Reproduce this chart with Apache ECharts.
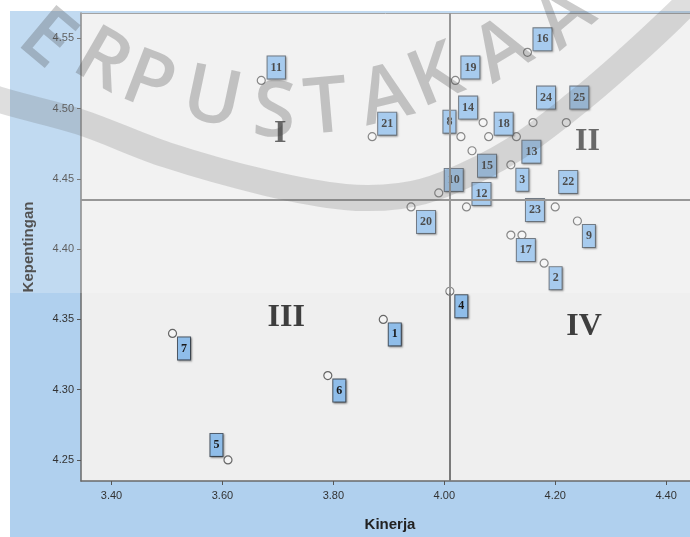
<!DOCTYPE html>
<html>
<head>
<meta charset="utf-8">
<script src="https://cdn.jsdelivr.net/npm/echarts@6/dist/echarts.min.js"></script>
<style>
  html, body { margin: 0; padding: 0; background: #ffffff; }
  #chart { width: 690px; height: 537px; }
</style>
</head>
<body>
<div id="chart"></div>
<script>
// Importance–performance scatter: attribute numbers, performance (Kinerja) and importance (Kepentingan)
const pointIds = [1, 2, 3, 4, 5, 6, 7, 8, 9, 10, 11, 12, 13, 14, 15, 16, 17, 18, 19, 20, 21, 22, 23, 24, 25];
const kinerja = [3.89, 4.18, 4.12, 4.01, 3.61, 3.79, 3.51, 4.03, 4.24, 3.99, 3.67, 4.04, 4.13,
                 4.07, 4.05, 4.15, 4.12, 4.08, 4.02, 3.94, 3.87, 4.20, 4.14, 4.16, 4.22];
const kepentingan = [4.35, 4.39, 4.46, 4.37, 4.25, 4.31, 4.34, 4.48, 4.42, 4.44, 4.52, 4.43, 4.48,
                     4.49, 4.47, 4.54, 4.41, 4.48, 4.52, 4.43, 4.48, 4.43, 4.41, 4.49, 4.49];
const xTicks = [3.40, 3.60, 3.80, 4.00, 4.20, 4.40];
const yTicks = [4.25, 4.30, 4.35, 4.40, 4.45, 4.50, 4.55];
const quadrantNames = ['I', 'II', 'III', 'IV'];

// where each quadrant numeral sits, in data units
const quadrantAnchors = [[3.704, 4.482], [4.258, 4.4765], [3.715, 4.351], [4.252, 4.3445]];
// side of the point on which each number tag is placed
const tagSide = ['lr', 'lr', 'lr', 'lr', 'ul', 'lr', 'lr', 'ul', 'lr', 'ur', 'ur', 'ur', 'lr',
                 'ul', 'lr', 'ur', 'lr', 'ur', 'ur', 'lr', 'ur', 'ur2', 'ur2', 'ur2', 'ur2'];

const mean = arr => arr.reduce((s, v) => s + v, 0) / arr.length;
const meanX = mean(kinerja);
const meanY = mean(kepentingan);

// the plot runs past the right edge of the canvas, so the visible x range ends before 4.46
const X_MIN = 3.345, X_MAX = 4.443, Y_MIN = 4.235, Y_MAX = 4.568;

function tagOffset(id, side) {
  const w = String(id).length * 7 + 6;
  if (side === 'lr') return [5 + w / 2, 15];
  if (side === 'ul') return [-5 - w / 2, -15];
  if (side === 'ur2') return [3 + w / 2, -25];
  return [5 + w / 2, -13];
}

const points = pointIds.map((id, i) => [kinerja[i], kepentingan[i], id]);
const quadrantData = quadrantNames.map((n, i) => ({ name: n, value: quadrantAnchors[i] }));

// watermark: arched lettering and band
const wmLetters = [
  ['E', 46, 40, 40], ['R', 102, 62, 30], ['P', 148, 84, 21], ['U', 212, 100, 12],
  ['S', 274, 114, 3], ['T', 326, 110, -5], ['A', 386, 98, -14], ['K', 436, 78, -22],
  ['A', 503, 52, -31], ['A', 565, 18, -40]
];
const wmBand = [[-30, 88], [0, 100], [80, 122], [167, 155], [267, 183], [345, 197], [400, 196],
                [445, 184], [513, 150], [580, 100], [630, 57], [672, 18], [705, -15]];

const graphics = [
  { type: 'rect', z: -10, silent: true, shape: { x: 10, y: 11, width: 690, height: 540 },
    style: { fill: '#b0d0ee' } },
  { type: 'rect', z: 100, silent: true, shape: { x: 0, y: 0, width: 690, height: 293 },
    style: { fill: 'rgba(255,255,255,0.22)' } },
  { type: 'polyline', z: 101, silent: true, shape: { points: wmBand, smooth: 0.35 },
    style: { stroke: 'rgba(90,90,90,0.2)', lineWidth: 26, fill: null } }
].concat(wmLetters.map(([ch, x, y, deg]) => ({
  type: 'text', z: 102, silent: true, x: x, y: y, rotation: -deg * Math.PI / 180,
  style: {
    text: ch, fill: 'rgba(70,70,70,0.28)', font: '600 78px "Open Sans", "DejaVu Sans", sans-serif',
    align: 'center', verticalAlign: 'middle'
  }
})));

const chart = echarts.init(document.getElementById('chart'), null, { renderer: 'canvas' });

chart.setOption({
  backgroundColor: '#ffffff',
  animation: false,
  grid: {
    left: 81, top: 13, right: 0, bottom: 55,
    show: true, backgroundColor: '#efefef', borderWidth: 0
  },
  xAxis: [{
    type: 'value', min: X_MIN, max: X_MAX,
    name: 'Kinerja', nameLocation: 'middle', nameGap: 36,
    nameTextStyle: { fontFamily: 'Liberation Sans', fontWeight: 'bold', fontSize: 15, color: '#222',
                     padding: [0, 0, 0, 9] },
    axisLine: { show: true, onZero: false, lineStyle: { color: '#6a6a6a', width: 1.5 } },
    axisTick: { show: true, length: 4, customValues: xTicks, lineStyle: { color: '#555' } },
    axisLabel: {
      customValues: xTicks, formatter: v => v.toFixed(2), margin: 9,
      fontFamily: 'Liberation Sans', fontSize: 11, color: '#333'
    },
    splitLine: { show: false }
  }, {
    type: 'value', position: 'top', min: X_MIN, max: X_MAX,
    axisLine: { show: true, onZero: false, lineStyle: { color: '#8a8a8a', width: 1 } },
    axisTick: { show: false }, axisLabel: { show: false }, splitLine: { show: false }
  }],
  yAxis: {
    type: 'value', min: Y_MIN, max: Y_MAX,
    name: 'Kepentingan', nameLocation: 'middle', nameGap: 45, nameRotate: 90,
    nameTextStyle: { fontFamily: 'Liberation Sans', fontWeight: 'bold', fontSize: 15, color: '#222' },
    axisLine: { show: true, onZero: false, lineStyle: { color: '#6a6a6a', width: 1.5 } },
    axisTick: { show: true, length: 4, customValues: yTicks, lineStyle: { color: '#555' } },
    axisLabel: {
      customValues: yTicks, formatter: v => v.toFixed(2), margin: 7,
      fontFamily: 'Liberation Sans', fontSize: 11, color: '#333'
    },
    splitLine: { show: false }
  },
  graphic: graphics,
  series: [
    {
      type: 'scatter',
      name: 'Atribut',
      data: points,
      symbol: 'circle',
      symbolSize: 8,
      itemStyle: { color: '#f4f4f4', borderColor: '#666', borderWidth: 1.2, opacity: 1 },
      label: {
        show: true,
        position: 'inside',
        formatter: p => String(p.value[2]),
        fontFamily: 'Liberation Serif',
        fontWeight: 'bold',
        fontSize: 12,
        lineHeight: 13,
        color: '#1a1a1a',
        backgroundColor: '#8fbde9',
        borderColor: '#4d5966',
        borderWidth: 1,
        padding: [5, 3, 4, 3],
        shadowColor: 'rgba(0,0,0,0.35)',
        shadowBlur: 2,
        shadowOffsetX: 1,
        shadowOffsetY: 1
      },
      labelLayout: params => {
        const i = params.dataIndex;
        const off = tagOffset(pointIds[i], tagSide[i]);
        return { dx: off[0], dy: off[1], hideOverlap: false };
      },
      markLine: {
        silent: true,
        symbol: 'none',
        precision: 6,
        label: { show: false },
        lineStyle: { color: '#7a7a7a', width: 2, type: 'solid' },
        data: [{ xAxis: meanX }, { yAxis: meanY }]
      },
      z: 3
    },
    {
      type: 'scatter',
      name: 'Kuadran',
      data: quadrantData,
      symbolSize: 0,
      silent: true,
      label: {
        show: true,
        position: 'inside',
        formatter: p => p.name,
        fontFamily: 'Liberation Serif',
        fontWeight: 'bold',
        fontSize: 32,
        color: '#111'
      },
      z: 4
    }
  ]
});
</script>
</body>
</html>
